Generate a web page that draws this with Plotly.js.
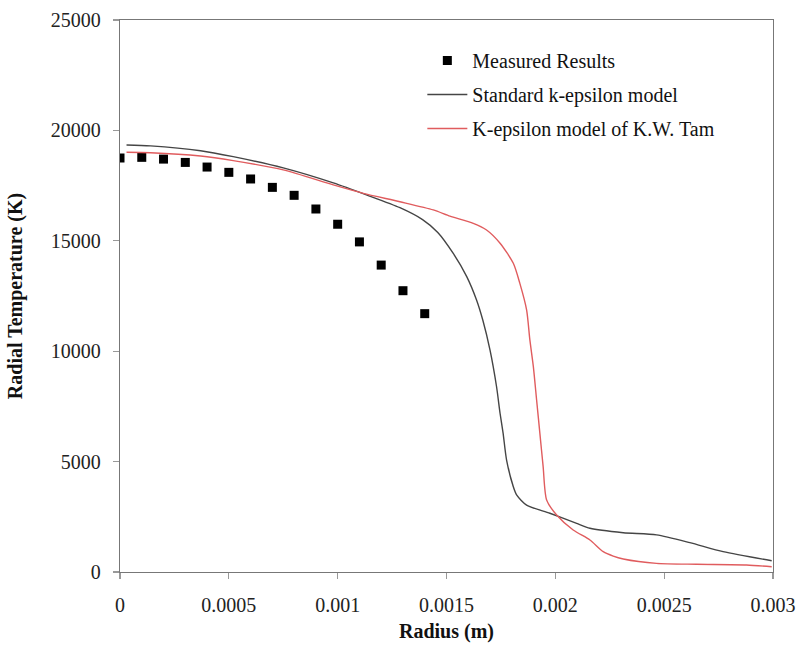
<!DOCTYPE html>
<html>
<head>
<meta charset="utf-8">
<script src="https://cdn.plot.ly/plotly-3.0.1.min.js"></script>
<style>html,body{margin:0;padding:0;background:#fff;}#chart{width:803px;height:646px;}</style>
</head>
<body>
<div id="chart"></div>
<script>
// Measured results
const measuredX = [0, 0.0001, 0.0002, 0.0003, 0.0004, 0.0005, 0.0006, 0.0007, 0.0008, 0.0009, 0.0010, 0.0011, 0.0012, 0.0013, 0.0014];
const measuredY = [18750, 18780, 18700, 18550, 18340, 18100, 17800, 17420, 17060, 16440, 15750, 14950, 13900, 12740, 11700];

// Standard k-epsilon model
const standardX = [0.00003, 0.00014, 0.00037, 0.00052, 0.00075, 0.00098, 0.001135, 0.001286, 0.00139, 0.00146, 0.001531, 0.001593, 0.001638, 0.001667, 0.0017, 0.00173, 0.001746, 0.00176, 0.001776, 0.001807, 0.001822, 0.001868, 0.001975, 0.002098, 0.002159, 0.002312, 0.002465, 0.002618, 0.002771, 0.002994];
const standardY = [19340, 19300, 19080, 18810, 18300, 17620, 17070, 16500, 15960, 15380, 14430, 13380, 12320, 11400, 10050, 8390, 7190, 6290, 5070, 3860, 3490, 3030, 2660, 2200, 1980, 1780, 1680, 1330, 920, 510];

// K-epsilon model of K.W. Tam
const tamX = [0.00003, 0.00014, 0.00037, 0.00052, 0.00075, 0.00098, 0.001118, 0.001286, 0.001439, 0.001516, 0.001623, 0.001684, 0.001746, 0.001807, 0.001837, 0.001868, 0.001883, 0.001899, 0.001914, 0.001929, 0.001944, 0.00196, 0.002006, 0.002082, 0.002159, 0.00222, 0.002266, 0.002312, 0.002465, 0.002649, 0.002878, 0.002994];
const tamY = [19010, 18990, 18840, 18630, 18210, 17530, 17150, 16770, 16400, 16120, 15790, 15490, 14890, 13980, 13070, 11870, 10510, 9300, 7790, 6280, 4770, 3260, 2580, 1900, 1450, 920, 720, 590, 390, 350, 320, 240];

const xTicks = [0, 0.0005, 0.001, 0.0015, 0.002, 0.0025, 0.003];
const xTickText = ['0', '0.0005', '0.001', '0.0015', '0.002', '0.0025', '0.003'];
const yTicks = [0, 5000, 10000, 15000, 20000, 25000];
const yTickText = ['0', '5000', '10000', '15000', '20000', '25000'];

const serif = 'Liberation Serif, Times New Roman, serif';

const traces = [
  {x: measuredX, y: measuredY, type: 'scatter', mode: 'markers', name: 'Measured Results', legendgroup: 'a',
   marker: {symbol: 'square', size: 9, color: '#000'}},
  {x: standardX, y: standardY, type: 'scatter', mode: 'lines', name: 'Standard k-epsilon model', legendgroup: 'b',
   line: {color: '#454545', width: 1.4, shape: 'spline', smoothing: 0.7}},
  {x: tamX, y: tamY, type: 'scatter', mode: 'lines', name: 'K-epsilon model of K.W. Tam', legendgroup: 'c',
   line: {color: '#e05c5e', width: 1.4, shape: 'spline', smoothing: 0.7}}
];

const axisCommon = {
  showgrid: false, zeroline: false, showline: true, linecolor: '#777', linewidth: 1.3, mirror: true,
  ticks: 'outside', ticklen: 6, tickcolor: '#999', tickwidth: 1.3,
  tickfont: {family: serif, size: 20, color: '#222'}
};

const layout = {
  width: 803, height: 646,
  margin: {l: 120, r: 30, t: 20, b: 74},
  paper_bgcolor: '#fff', plot_bgcolor: '#fff',
  showlegend: true,
  legend: {x: 0.463, y: 0.962, xanchor: 'left', yanchor: 'top', bgcolor: 'rgba(0,0,0,0)', borderwidth: 0,
           itemwidth: 40,
           font: {family: serif, size: 20, color: '#111'}, tracegroupgap: 5, traceorder: 'grouped'},
  xaxis: Object.assign({}, axisCommon, {
    range: [0, 0.003], tickvals: xTicks, ticktext: xTickText, ticklabelstandoff: 9,
    title: {text: '<b>Radius (m)</b>', font: {family: serif, size: 20, color: '#111'}, standoff: 8}
  }),
  yaxis: Object.assign({}, axisCommon, {
    range: [0, 25000], tickvals: yTicks, ticktext: yTickText, ticklabelstandoff: 8,
    title: {text: '<b>Radial Temperature (K)</b>', font: {family: serif, size: 20, color: '#111'}, standoff: 22}
  })
};

Plotly.newPlot('chart', traces, layout, {displayModeBar: false, staticPlot: true});
</script>
</body>
</html>
